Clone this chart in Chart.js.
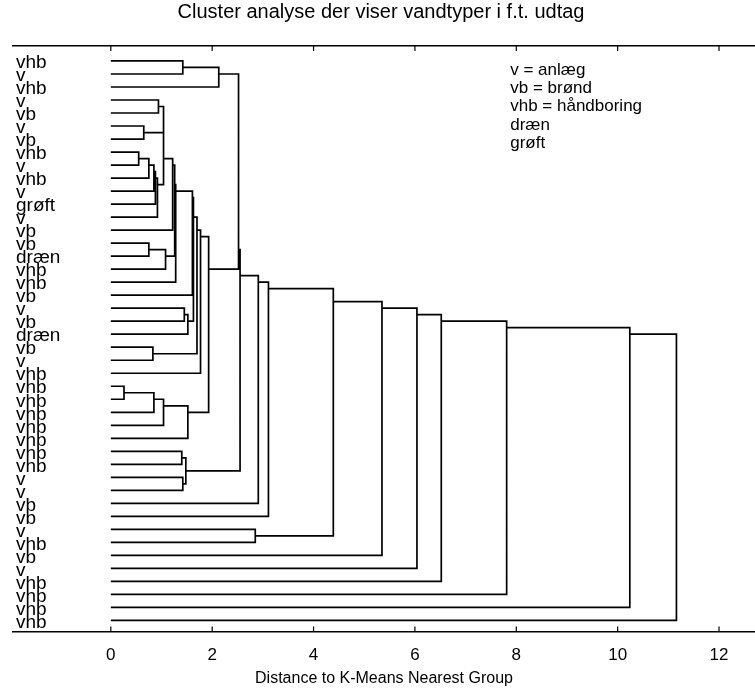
<!DOCTYPE html>
<html>
<head>
<meta charset="utf-8">
<script src="https://cdn.jsdelivr.net/npm/chart.js@4.4.1/dist/chart.umd.min.js"></script>
<style>
  html, body { margin: 0; padding: 0; background: #fff; }
</style>
</head>
<body>
<canvas id="tree" width="755" height="693"></canvas>
<script>
// leaf labels, top to bottom
const leafLabels = [
  'vhb', 'v', 'vhb', 'v', 'vb', 'v', 'vb', 'vhb', 'v', 'vhb', 'v', 'grøft',
  'v', 'vb', 'vb', 'dræn', 'vhb', 'vhb', 'vb', 'v', 'vb', 'dræn', 'vb', 'v',
  'vhb', 'vhb', 'vhb', 'vhb', 'vhb', 'vhb', 'vhb', 'vhb', 'v', 'v', 'vb', 'vb',
  'v', 'vhb', 'vb', 'v', 'vhb', 'vhb', 'vhb', 'vhb'
]

// joins, in order. 1..44 = leaf, 45 = result of first join, 46 = second ...
const mergeLeft  = [1, 45, 4, 6, 47, 8, 50, 51, 52, 53, 49, 55, 15, 57, 56, 59, 60, 20, 62, 61, 23, 64, 66, 26, 68, 69, 70, 67, 46, 31, 33, 74, 73, 77, 78, 37, 79, 81, 82, 83, 84, 85, 86]
const mergeRight = [2, 3, 5, 7, 48, 9, 10, 11, 12, 13, 54, 14, 16, 17, 58, 18, 19, 21, 22, 63, 24, 65, 25, 27, 28, 29, 30, 71, 72, 32, 34, 75, 76, 35, 36, 38, 80, 39, 40, 41, 42, 43, 44]
const mergeDist  = [1.42, 2.13, 0.94, 0.65, 1.04, 0.55, 0.75, 0.85, 0.88, 0.92, 1.04, 1.22, 0.75, 1.08, 1.26, 1.28, 1.61, 1.45, 1.52, 1.63, 0.83, 1.70, 1.77, 0.26, 0.85, 1.04, 1.52, 1.93, 2.52, 1.40, 1.42, 1.48, 2.55, 2.91, 3.11, 2.85, 4.39, 5.35, 6.04, 6.52, 7.81, 10.24, 11.16]

const xTicks = [0, 2, 4, 6, 8, 10, 12]
const legendLines = ['v = anlæg', 'vb = brønd', 'vhb = håndboring', 'dræn', 'grøft']

const fontFam = '"Liberation Sans", Arial, sans-serif'

// build the branch polylines
const nLeaf = leafLabels.length
let pos = {}, size = {}, height = {}
for (let i = 1; i <= nLeaf; i++) { pos[i] = i; size[i] = 1; height[i] = 0 }
let segs = []
mergeDist.forEach((d, k) => {
  const a = mergeLeft[k], b = mergeRight[k], id = nLeaf + k + 1
  segs.push({x: height[a], y: pos[a]}, {x: d, y: pos[a]}, {x: d, y: pos[b]}, {x: height[b], y: pos[b]}, {x: null, y: null})
  size[id] = size[a] + size[b]
  pos[id] = (pos[a] * size[a] + pos[b] * size[b]) / size[id]
  height[id] = d
})

// small inside ticks + the text key in the corner
const extras = {
  id: 'extras',
  afterDraw(chart) {
    const ctx = chart.ctx, xs = chart.scales.x, area = chart.chartArea
    ctx.save()
    ctx.strokeStyle = '#000'
    ctx.lineWidth = 1.2
    xTicks.forEach(v => {
      const px = xs.getPixelForValue(v)
      ctx.beginPath()
      ctx.moveTo(px, area.bottom); ctx.lineTo(px, area.bottom - 5)
      ctx.moveTo(px, area.top); ctx.lineTo(px, area.top + 5)
      ctx.stroke()
    })
    ctx.fillStyle = '#000'
    ctx.font = '17px ' + fontFam
    ctx.textBaseline = 'middle'
    const lx = xs.getPixelForValue(7.88)
    legendLines.forEach((t, i) => ctx.fillText(t, lx, area.top + 24 + i * 18.3))
    ctx.restore()
  }
}

new Chart(document.querySelector('#tree'), {
  type: 'line',
  data: {
    datasets: [{
      data: segs,
      borderColor: '#000',
      borderWidth: 1.7,
      pointRadius: 0,
      spanGaps: false,
      tension: 0
    }]
  },
  options: {
    responsive: false,
    animation: false,
    layout: { padding: { left: 7, right: 0, top: 0, bottom: 5 } },
    plugins: {
      legend: { display: false },
      tooltip: { enabled: false },
      title: {
        display: true,
        text: 'Cluster analyse der viser vandtyper i f.t. udtag',
        color: '#000',
        font: { family: fontFam, size: 20, weight: 'normal' },
        padding: { top: 0, bottom: 22 }
      }
    },
    scales: {
      x: {
        type: 'linear',
        min: -1.93,
        max: 12.71,
        afterBuildTicks: s => { s.ticks = xTicks.map(v => ({ value: v })) },
        grid: { display: false, drawTicks: false },
        border: { color: '#000', width: 1.5 },
        ticks: { color: '#000', font: { family: fontFam, size: 17 }, padding: 14, autoSkip: false, maxRotation: 0 },
        title: {
          display: true,
          text: 'Distance to K-Means Nearest Group',
          color: '#000',
          font: { family: fontFam, size: 16 },
          padding: { top: -11, bottom: 0 }
        }
      },
      x2: {
        type: 'linear',
        position: 'top',
        min: -1.93,
        max: 12.71,
        ticks: { display: false },
        grid: { display: false, drawTicks: false },
        border: { color: '#000', width: 1.5 }
      },
      y: {
        type: 'linear',
        reverse: true,
        min: -0.15,
        max: 44.84,
        afterBuildTicks: s => { s.ticks = leafLabels.map((l, i) => ({ value: i + 1 })) },
        grid: { display: false, drawTicks: false },
        border: { display: false },
        ticks: {
          mirror: true,
          padding: 3,
          labelOffset: 2,
          autoSkip: false,
          color: '#000',
          font: { family: fontFam, size: 19 },
          callback: v => leafLabels[v - 1]
        }
      }
    }
  },
  plugins: [extras]
})
</script>
</body>
</html>
